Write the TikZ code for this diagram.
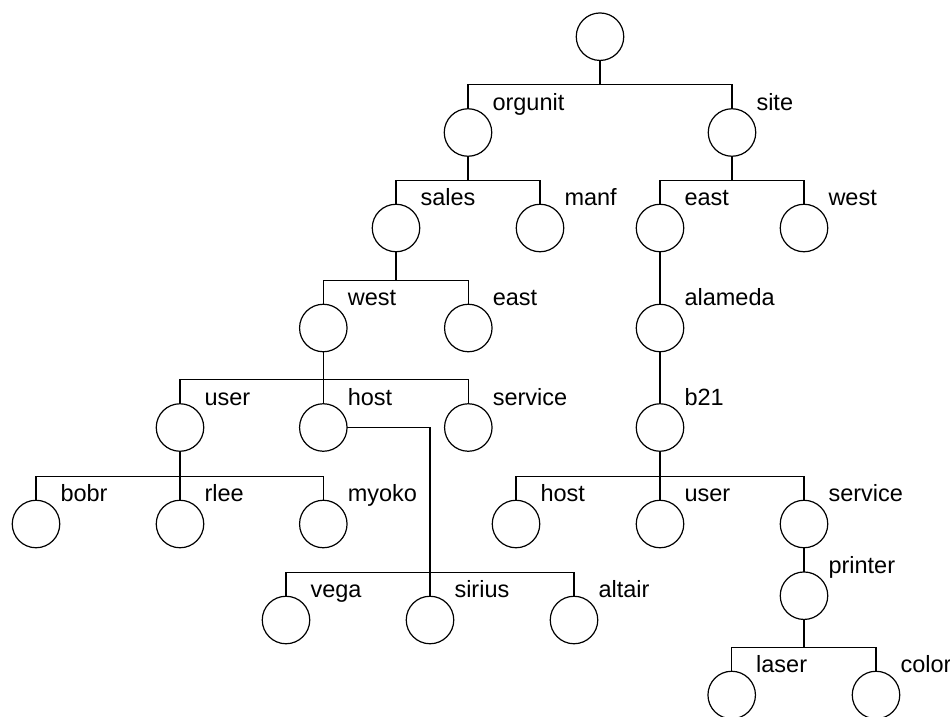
\documentclass[tikz,border=0pt]{standalone}
\usepackage{fontspec}
\setmainfont{Liberation Sans}
\usetikzlibrary{calc}
\tikzset{
  nd/.style={circle,draw,line width=1.2pt,minimum size=47.5pt,inner sep=0pt,outer sep=0pt},
  lbl/.style={anchor=base west,inner sep=0pt,outer sep=0pt,font=\fontsize{23.5}{28}\selectfont},
  conn/.style={line width=1.2pt},
}
\newcommand\nd[4]{\node[nd] (#1) at (#2,#3) {}; \node[lbl] (#1-l) at (#2+24.5,#3-22.5) {#4};}
\newcommand\tedge[2]{\draw[conn] (#1.south) |- ([yshift=24pt]#2.north) -- (#2.north);}
\begin{document}
\begin{tikzpicture}[x=1pt,y=-1pt]
\useasboundingbox (0,0) rectangle (950,717);
\node[nd] (root) at (600,36.7) {};
\nd{orgunit}{468}{132.5}{orgunit}
\nd{site}{732}{132.5}{site}
\nd{sales}{396}{228}{sales}
\nd{manf}{540}{228}{manf}
\nd{eastA}{660}{228}{east}
\nd{westA}{804}{228}{west}
\nd{westB}{323.3}{328}{west}
\nd{eastB}{468.3}{328}{east}
\nd{alameda}{660}{328}{alameda}
\nd{user}{180}{427.5}{user}
\nd{host}{323.3}{427.5}{host}
\nd{service}{468.3}{427.5}{service}
\nd{b21}{660}{427.5}{b21}
\nd{bobr}{36}{524}{bobr}
\nd{rlee}{180}{524}{rlee}
\nd{myoko}{323.3}{524}{myoko}
\nd{hostB}{516}{524}{host}
\nd{userB}{660}{524}{user}
\nd{serviceB}{804}{524}{service}
\nd{vega}{286}{620}{vega}
\nd{sirius}{430}{620}{sirius}
\nd{altair}{574}{620}{altair}
\nd{printer}{804}{595.7}{printer}
\nd{laser}{731.7}{695}{laser}
\nd{color}{876}{695}{color}
\tedge{root}{orgunit}
\tedge{root}{site}
\tedge{orgunit}{sales}
\tedge{orgunit}{manf}
\tedge{site}{eastA}
\tedge{site}{westA}
\tedge{sales}{westB}
\tedge{sales}{eastB}
\tedge{eastA}{alameda}
\tedge{westB}{user}
\tedge{westB}{host}
\tedge{westB}{service}
\tedge{alameda}{b21}
\tedge{user}{bobr}
\tedge{user}{rlee}
\tedge{user}{myoko}
\tedge{b21}{hostB}
\tedge{b21}{userB}
\tedge{b21}{serviceB}
\tedge{serviceB}{printer}
\tedge{printer}{laser}
\tedge{printer}{color}
\draw[conn] (host.east) -| (sirius.north);
\draw[conn] (vega.north) |- ([yshift=24pt]sirius.north) -| (altair.north);
\end{tikzpicture}
\end{document}
